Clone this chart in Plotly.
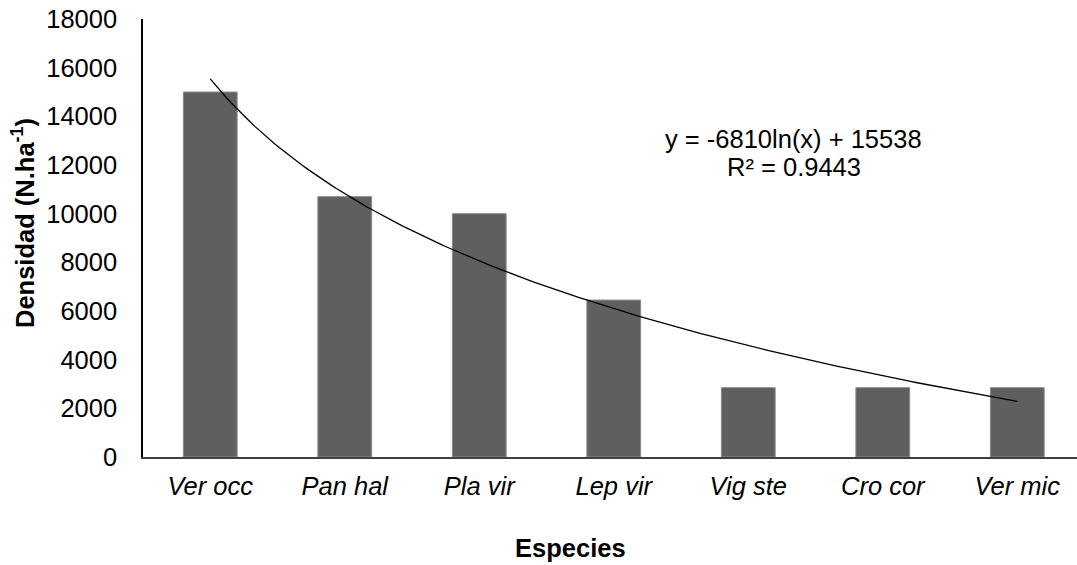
import numpy as np
import plotly.graph_objects as go

species = ["Ver occ", "Pan hal", "Pla vir", "Lep vir", "Vig ste", "Cro cor", "Ver mic"]
densidad = [15000, 10700, 10000, 6450, 2850, 2850, 2850]
y_ticks = [0, 2000, 4000, 6000, 8000, 10000, 12000, 14000, 16000, 18000]
eq_slope = -6810
eq_intercept = 15538
r2_text = "0.9443"

pos = list(range(len(species)))

# logarithmic trend line (Excel style), x = 1..n
t = np.linspace(1, len(species), 200)
trend = eq_slope * np.log(t) + eq_intercept

# plot area in pixels
L, R, T, B = 143, 1077, 19, 457
W, H = R - L, B - T
px = lambda x: (x - L) / W
py = lambda y: (B - y) / H

FS = 25.5

def ann(text, x, y, angle=0):
    return dict(text=text, xref="paper", yref="paper", x=px(x), y=py(y),
                xanchor="center", yanchor="middle", showarrow=False,
                textangle=angle, font=dict(size=FS))

fig = go.Figure()
fig.add_trace(go.Bar(x=pos, y=densidad, width=0.4,
                     marker=dict(color="#5f5f5f", line=dict(width=1, color="#8c8c8c")),
                     showlegend=False))
fig.add_trace(go.Scatter(x=t - 1, y=trend, mode="lines",
                         line=dict(color="black", width=1.3),
                         showlegend=False))

fig.update_layout(
    width=1077, height=565,
    margin=dict(l=L, r=1077 - R, t=T, b=565 - B),
    plot_bgcolor="white", paper_bgcolor="white",
    font=dict(family="Liberation Sans, Arial", size=FS, color="black"),
    xaxis=dict(range=[-0.5, 6.444], tickvals=pos,
               ticktext=["<i>%s</i>" % s for s in species],
               showline=True, linecolor="#404040", linewidth=1.5,
               ticks="outside", ticklen=6, tickcolor="rgba(0,0,0,0)",
               tickfont=dict(size=FS),
               showgrid=False, zeroline=False, fixedrange=True),
    yaxis=dict(range=[0, 18000], tickvals=y_ticks,
               ticktext=[str(v) for v in y_ticks],
               showline=True, linecolor="black", linewidth=1.5,
               ticks="outside", ticklen=19, tickcolor="rgba(0,0,0,0)",
               tickfont=dict(size=FS),
               showgrid=False, zeroline=False),
    annotations=[
        ann("y = %dln(x) + %d" % (eq_slope, eq_intercept), 793.5, 138.5),
        ann("R² = %s" % r2_text, 794, 166.5),
        ann("<b>Especies</b>", 570.5, 548),
        ann("<b>Densidad (N.ha<sup>-1</sup>)</b>", 23, 223, -90),
    ],
)

fig.write_html("out.html")
